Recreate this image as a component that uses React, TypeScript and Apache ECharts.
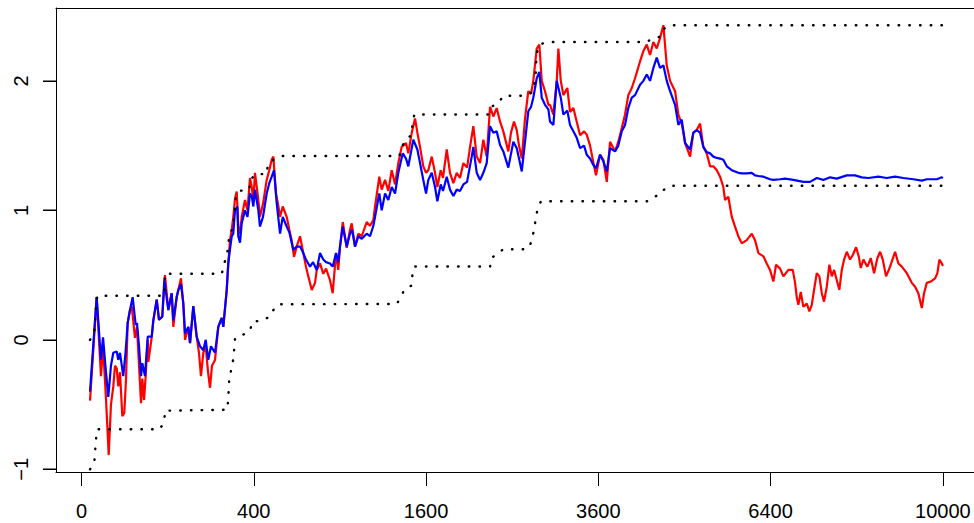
import React, { useEffect, useRef } from 'react';
import * as echarts from 'echarts';

// x axis is a square-root time scale: positions are sqrt(t), labels are t
const xTickSqrtT = [0, 20, 40, 60, 80, 100];
const xTickLabels = ['0', '400', '1600', '3600', '6400', '10000'];
const yTickValues = [-1, 0, 1, 2];
const yTickLabels = ['\u22121', '0', '1', '2'];

// [sqrt(t), value]
const redSeries: [number, number][] = [
  [0.99, -0.47], [1.76, 0.33], [2.26, -0.28], [2.5, -0.05], [2.84, -0.45], [3.16, -0.89], [3.42, -0.5], [3.69, -0.36],
  [3.89, -0.2], [4.09, -0.22], [4.27, -0.36], [4.47, -0.25], [4.74, -0.59], [4.97, -0.565], [5.17, -0.3], [5.36, 0.13],
  [5.63, 0.23], [5.83, 0.26], [6.21, 0.015], [6.44, 0.1], [6.68, -0.2], [6.91, -0.49], [7.06, -0.3], [7.26, -0.465],
  [7.43, -0.3], [7.69, 0.0], [7.76, -0.17], [8.15, 0.02], [8.34, 0.15], [8.73, 0.31], [9.0, 0.155], [9.38, 0.18],
  [9.69, 0.5], [10.08, 0.23], [10.47, 0.36], [10.66, 0.1], [11.05, 0.33], [11.24, 0.385], [11.55, 0.475], [11.82, 0.28],
  [12.02, 0.0], [12.4, 0.1], [12.6, -0.025], [12.98, 0.26], [13.37, 0.025], [13.64, -0.1], [13.87, -0.28], [14.14, -0.1],
  [14.42, -0.05], [14.69, -0.25], [14.92, -0.37], [15.15, -0.2], [15.5, -0.155], [15.88, 0.1], [16.28, 0.17], [16.46, 0.1],
  [16.86, 0.385], [17.04, 0.59], [17.24, 0.77], [17.44, 0.85], [17.62, 0.95], [17.82, 1.09], [18.02, 1.145], [18.2, 0.875],
  [18.4, 0.82], [18.6, 0.95], [18.98, 1.08], [19.27, 1.0], [19.56, 1.25], [19.76, 1.18], [19.95, 1.08], [20.14, 1.29],
  [20.53, 1.08], [20.72, 0.95], [21.07, 1.05], [21.5, 1.235], [21.8, 1.31], [22.08, 1.39], [22.27, 1.415], [22.58, 1.13],
  [22.81, 1.05], [23.05, 0.95], [23.36, 1.03], [23.82, 0.95], [24.13, 0.85], [24.4, 0.77], [24.67, 0.64], [24.98, 0.72],
  [25.37, 0.8], [25.68, 0.695], [26.06, 0.565], [26.33, 0.49], [26.73, 0.385], [27.11, 0.44], [27.31, 0.54], [27.69, 0.59],
  [28.07, 0.51], [28.39, 0.55], [28.85, 0.46], [29.16, 0.36], [29.55, 0.67], [29.81, 0.54], [30.01, 0.72], [30.33, 0.91],
  [30.79, 0.71], [31.17, 0.85], [31.37, 0.9], [31.75, 0.72], [32.14, 0.82], [32.53, 0.8], [33.11, 0.91], [33.49, 0.88],
  [33.88, 0.925], [34.08, 1.03], [34.57, 1.26], [34.85, 1.16], [35.24, 1.235], [35.62, 1.15], [36.01, 1.31], [36.4, 1.2],
  [36.78, 1.365], [37.17, 1.49], [37.67, 1.52], [37.94, 1.44], [38.34, 1.6], [38.72, 1.71], [38.99, 1.6], [39.3, 1.49],
  [39.68, 1.34], [40.0, 1.29], [40.26, 1.31], [40.66, 1.415], [41.04, 1.29], [41.31, 1.18], [41.7, 1.31], [41.97, 1.25],
  [42.4, 1.47], [42.78, 1.29], [43.17, 1.21], [43.56, 1.29], [43.94, 1.25], [44.33, 1.365], [44.76, 1.33], [45.11, 1.49],
  [45.49, 1.65], [45.88, 1.415], [46.27, 1.365], [46.65, 1.545], [47.04, 1.415], [47.43, 1.8], [47.81, 1.725], [48.2, 1.79],
  [48.59, 1.685], [48.97, 1.61], [49.55, 1.455], [49.86, 1.6], [50.21, 1.685], [50.53, 1.62], [50.79, 1.5], [51.11, 1.4],
  [51.49, 1.71], [51.87, 1.92], [52.19, 1.9], [52.45, 2.0], [52.85, 2.25], [53.15, 2.28], [53.43, 2.0], [53.81, 1.92],
  [54.2, 1.815], [54.39, 1.815], [54.78, 1.74], [55.17, 2.0], [55.36, 2.25], [55.64, 2.0], [55.94, 1.89], [56.4, 1.945],
  [56.71, 1.76], [57.1, 1.79], [57.49, 1.685], [57.88, 1.58], [58.34, 1.61], [58.65, 1.585], [59.04, 1.5], [59.42, 1.37],
  [59.73, 1.27], [60.2, 1.43], [60.58, 1.39], [60.98, 1.22], [61.36, 1.53], [61.94, 1.455], [62.32, 1.53], [62.72, 1.635],
  [63.1, 1.74], [63.48, 1.89], [63.88, 1.945], [64.26, 2.02], [64.84, 2.15], [65.23, 2.23], [65.62, 2.28], [66.0, 2.2],
  [66.39, 2.3], [66.78, 2.25], [67.16, 2.33], [67.55, 2.43], [67.94, 2.12], [68.33, 2.0], [68.91, 1.92], [69.29, 1.74],
  [69.68, 1.67], [70.07, 1.52], [70.65, 1.415], [71.03, 1.6], [71.42, 1.62], [71.81, 1.67], [72.19, 1.49], [72.58, 1.44],
  [72.97, 1.34], [73.35, 1.34], [73.75, 1.31], [74.13, 1.26], [74.51, 1.18], [74.71, 1.08], [75.09, 1.105], [75.49, 0.95],
  [75.87, 0.875], [76.25, 0.8], [76.65, 0.745], [77.23, 0.77], [77.81, 0.82], [78.19, 0.77], [78.58, 0.67], [79.16, 0.645],
  [79.55, 0.59], [79.93, 0.54], [80.32, 0.45], [80.63, 0.58], [81.1, 0.55], [81.48, 0.49], [82.06, 0.54], [82.57, 0.54],
  [82.84, 0.44], [83.03, 0.33], [83.22, 0.27], [83.5, 0.37], [83.8, 0.255], [84.2, 0.28], [84.5, 0.22], [84.78, 0.27],
  [85.04, 0.385], [85.36, 0.515], [85.66, 0.49], [85.94, 0.36], [86.2, 0.295], [86.52, 0.41], [86.82, 0.58], [87.1, 0.49],
  [87.37, 0.54], [87.68, 0.46], [87.98, 0.385], [88.26, 0.54], [88.53, 0.62], [88.84, 0.68], [89.22, 0.62], [89.54, 0.655],
  [89.92, 0.715], [90.23, 0.645], [90.46, 0.555], [90.77, 0.62], [91.23, 0.565], [91.63, 0.63], [92.01, 0.515], [92.39, 0.63],
  [92.71, 0.68], [93.02, 0.62], [93.4, 0.49], [93.87, 0.565], [94.45, 0.68], [94.83, 0.59], [95.23, 0.565], [95.81, 0.515],
  [96.39, 0.44], [96.77, 0.41], [97.15, 0.36], [97.55, 0.245], [97.81, 0.36], [98.13, 0.44], [98.59, 0.45], [99.09, 0.475],
  [99.36, 0.515], [99.59, 0.62], [99.87, 0.59], [100, 0.57],
];

const blueSeries: [number, number][] = [
  [0.99, -0.4], [1.76, 0.33], [2.26, -0.155], [2.5, 0.02], [2.84, -0.25], [3.11, -0.44], [3.42, -0.2], [3.69, -0.1],
  [4.09, -0.09], [4.27, -0.155], [4.47, -0.1], [4.85, -0.28], [5.11, -0.1], [5.36, 0.13], [5.63, 0.23], [5.94, 0.33],
  [6.29, 0.115], [6.44, 0.13], [6.68, -0.05], [6.91, -0.28], [7.06, -0.18], [7.37, -0.28], [7.69, 0.025], [8.15, 0.025],
  [8.34, 0.15], [8.73, 0.31], [9.0, 0.155], [9.38, 0.18], [9.61, 0.46], [10.08, 0.23], [10.47, 0.36], [10.66, 0.15],
  [11.05, 0.33], [11.24, 0.385], [11.55, 0.43], [11.82, 0.28], [12.02, 0.05], [12.4, 0.1], [12.6, -0.025], [12.98, 0.26],
  [13.37, 0.025], [13.76, -0.05], [14.14, -0.08], [14.42, 0.0], [14.72, -0.155], [15.03, -0.05], [15.5, -0.1], [15.88, 0.1],
  [16.28, 0.17], [16.46, 0.1], [16.86, 0.385], [17.04, 0.59], [17.24, 0.7], [17.44, 0.8], [17.62, 0.82], [17.82, 1.0],
  [18.09, 1.03], [18.2, 0.8], [18.4, 0.75], [18.6, 0.9], [18.98, 1.0], [19.27, 0.95], [19.56, 1.13], [19.76, 1.11],
  [19.95, 1.03], [20.14, 1.16], [20.53, 1.0], [20.72, 0.875], [21.07, 0.95], [21.5, 1.13], [21.8, 1.21], [22.08, 1.26],
  [22.35, 1.31], [22.66, 1.055], [23.05, 0.82], [23.36, 0.95], [23.82, 0.875], [24.13, 0.83], [24.4, 0.75], [24.59, 0.695],
  [24.98, 0.72], [25.37, 0.72], [25.68, 0.68], [26.06, 0.62], [26.53, 0.565], [26.88, 0.6], [27.31, 0.54], [27.69, 0.67],
  [28.07, 0.62], [28.39, 0.6], [28.85, 0.59], [29.16, 0.565], [29.55, 0.67], [29.81, 0.6], [30.01, 0.72], [30.33, 0.875],
  [30.79, 0.72], [31.17, 0.82], [31.41, 0.85], [31.75, 0.72], [32.14, 0.8], [32.53, 0.78], [33.11, 0.82], [33.49, 0.8],
  [33.88, 0.88], [34.08, 0.95], [34.57, 1.13], [34.85, 1.0], [35.24, 1.13], [35.62, 1.08], [36.01, 1.18], [36.4, 1.13],
  [36.78, 1.29], [37.29, 1.44], [37.67, 1.4], [37.94, 1.34], [38.52, 1.545], [38.99, 1.47], [39.3, 1.365], [39.68, 1.235],
  [40.0, 1.13], [40.26, 1.235], [40.66, 1.29], [41.04, 1.18], [41.31, 1.07], [41.7, 1.2], [41.97, 1.15], [42.4, 1.26],
  [42.78, 1.16], [43.17, 1.11], [43.56, 1.16], [43.94, 1.15], [44.33, 1.2], [44.76, 1.22], [45.3, 1.415], [45.49, 1.49],
  [45.88, 1.29], [46.27, 1.235], [46.65, 1.29], [47.04, 1.365], [47.43, 1.65], [47.81, 1.6], [48.2, 1.61], [48.59, 1.505],
  [48.97, 1.455], [49.55, 1.33], [50.13, 1.53], [50.53, 1.48], [50.79, 1.4], [51.11, 1.3], [51.49, 1.53], [51.87, 1.765],
  [52.19, 1.8], [52.45, 1.87], [52.85, 2.02], [53.15, 2.07], [53.43, 1.87], [53.81, 1.815], [54.2, 1.78], [54.39, 1.685],
  [54.78, 1.66], [55.17, 2.0], [55.64, 1.87], [55.94, 1.74], [56.4, 1.77], [56.71, 1.66], [57.1, 1.61], [57.49, 1.56],
  [57.88, 1.48], [58.34, 1.5], [58.65, 1.43], [59.04, 1.4], [59.42, 1.35], [59.73, 1.325], [60.2, 1.43], [60.58, 1.38],
  [60.98, 1.3], [61.36, 1.48], [61.94, 1.455], [62.32, 1.5], [62.72, 1.61], [63.1, 1.66], [63.48, 1.79], [63.88, 1.87],
  [64.26, 1.89], [64.84, 1.97], [65.23, 2.0], [65.62, 2.05], [66.0, 2.0], [66.39, 2.1], [66.78, 2.18], [67.16, 2.1],
  [67.55, 2.12], [67.94, 2.0], [68.33, 1.92], [68.91, 1.815], [69.29, 1.66], [69.68, 1.7], [70.07, 1.52], [70.65, 1.47],
  [71.03, 1.6], [71.42, 1.62], [71.81, 1.6], [72.19, 1.49], [72.58, 1.45], [72.97, 1.44], [73.35, 1.415], [73.75, 1.405],
  [74.13, 1.4], [74.51, 1.39], [74.91, 1.34], [75.49, 1.31], [75.87, 1.3], [76.25, 1.29], [76.65, 1.285], [77.23, 1.285],
  [77.81, 1.29], [78.19, 1.27], [78.58, 1.265], [79.16, 1.26], [79.55, 1.25], [79.93, 1.24], [80.32, 1.235], [81.1, 1.24],
  [81.68, 1.245], [82.64, 1.235], [83.8, 1.22], [84.58, 1.22], [85.36, 1.25], [86.12, 1.235], [86.9, 1.255], [87.68, 1.245],
  [88.84, 1.27], [89.8, 1.27], [90.58, 1.255], [91.35, 1.25], [92.51, 1.26], [93.48, 1.25], [94.45, 1.26], [95.41, 1.25],
  [96.57, 1.24], [97.55, 1.23], [98.13, 1.24], [99.29, 1.24], [99.87, 1.255], [100, 1.25],
];

const upperBound: [number, number][] = [
  [0.99, 0.0], [1.49, 0.06], [1.57, 0.14], [1.65, 0.22], [1.76, 0.31], [1.86, 0.34], [9.58, 0.34], [9.61, 0.37],
  [9.66, 0.51], [16.28, 0.51], [17.04, 0.71], [17.12, 0.8], [17.51, 0.86], [17.71, 0.94], [17.82, 1.03], [17.9, 1.09],
  [18.29, 1.15], [19.48, 1.16], [19.56, 1.235], [20.26, 1.28], [21.5, 1.28], [21.62, 1.35], [22.35, 1.395], [23.24, 1.42],
  [36.9, 1.42], [37.17, 1.49], [37.67, 1.545], [38.34, 1.585], [38.41, 1.665], [38.64, 1.74], [47.23, 1.74], [47.62, 1.8],
  [48.47, 1.835], [48.97, 1.885], [51.49, 1.885], [52.27, 1.91], [52.57, 1.97], [52.73, 2.05], [52.77, 2.13], [52.85, 2.21],
  [53.15, 2.28], [54.04, 2.3], [65.62, 2.3], [66.2, 2.325], [67.16, 2.34], [67.55, 2.4], [68.33, 2.43], [100, 2.43],
];

const lowerBound: [number, number][] = [
  [0.99, -1.0], [1.49, -0.946], [1.57, -0.864], [1.68, -0.78], [1.76, -0.7], [1.86, -0.69], [9.11, -0.69], [9.61, -0.63],
  [9.69, -0.547], [16.93, -0.54], [17.04, -0.45], [17.1, -0.37], [17.16, -0.285], [17.44, -0.22], [17.62, -0.148], [17.74, -0.065],
  [17.82, 0.012], [18.72, 0.038], [19.56, 0.07], [19.83, 0.14], [20.92, 0.148], [21.89, 0.18], [22.27, 0.23], [22.85, 0.275],
  [36.59, 0.277], [37.09, 0.33], [37.48, 0.39], [38.34, 0.42], [38.41, 0.5], [38.64, 0.566], [47.43, 0.566], [47.62, 0.635],
  [48.47, 0.67], [48.94, 0.7], [51.72, 0.7], [52.19, 0.75], [52.54, 0.85], [52.77, 0.95], [53.0, 1.03], [53.35, 1.07],
  [65.65, 1.07], [66.23, 1.1], [67.16, 1.12], [67.63, 1.16], [68.33, 1.19], [100, 1.19],
];

const X_MIN = -2.96;
const X_MAX = 103.61;
const Y_MIN = -1.0207;
const Y_MAX = 2.5627;

const FONT = '"Liberation Sans", Arial, Helvetica, sans-serif';

const PLOT_LEFT = 56;
const PLOT_TOP = 8;
const PLOT_HEIGHT = 464;
const Y_TICK_LEN = 13;

function labelFor(values: number[], labels: string[], v: number): string {
  const i = values.findIndex((t) => Math.abs(t - v) < 1e-6);
  return i >= 0 ? labels[i] : '';
}

export default function App() {
  const ref = useRef<HTMLDivElement>(null);

  useEffect(() => {
    if (!ref.current) return;
    const chart = echarts.init(ref.current, null, { renderer: 'svg' });
    const dotted = {
      color: '#000',
      width: 2.4,
      type: [0.5, 10.2],
      cap: 'round',
    };
    const frameLine = () => ({ show: true, onZero: false, lineStyle: { color: '#000', width: 1 } });

    // helper grid covering exactly the tick-mark strip left of the frame (y = -1 .. 2)
    const pxPerUnit = PLOT_HEIGHT / (Y_MAX - Y_MIN);
    const yTop = yTickValues[yTickValues.length - 1];
    const yBottom = yTickValues[0];
    const tickTop = PLOT_TOP + (Y_MAX - yTop) * pxPerUnit;
    const tickHeight = (yTop - yBottom) * pxPerUnit;

    chart.setOption({
      animation: false,
      backgroundColor: '#ffffff',
      grid: [
        { left: PLOT_LEFT, top: PLOT_TOP, right: 0, height: PLOT_HEIGHT, show: false },
        { left: PLOT_LEFT - Y_TICK_LEN, top: tickTop, width: Y_TICK_LEN, height: tickHeight, show: false },
      ],
      xAxis: [
        {
          type: 'value',
          gridIndex: 0,
          position: 'bottom',
          min: X_MIN,
          max: X_MAX,
          axisLine: frameLine(),
          splitLine: { show: false },
          axisTick: {
            show: true,
            inside: false,
            length: 14,
            customValues: xTickSqrtT,
            lineStyle: { color: '#000', width: 1 },
          },
          axisLabel: {
            customValues: xTickSqrtT,
            formatter: (v: number) => labelFor(xTickSqrtT, xTickLabels, v),
            margin: 29,
            fontSize: 20,
            color: '#000',
            fontFamily: FONT,
            hideOverlap: false,
          },
        },
        {
          type: 'value',
          gridIndex: 0,
          position: 'top',
          min: X_MIN,
          max: X_MAX,
          axisLine: frameLine(),
          splitLine: { show: false },
          axisTick: { show: false },
          axisLabel: { show: false },
        },
        {
          type: 'value',
          gridIndex: 1,
          min: 0,
          max: 1,
          axisLine: { show: false },
          axisTick: { show: false },
          axisLabel: { show: false },
          splitLine: { show: false },
        },
      ],
      yAxis: [
        {
          type: 'value',
          gridIndex: 0,
          position: 'left',
          min: Y_MIN,
          max: Y_MAX,
          axisLine: frameLine(),
          splitLine: { show: false },
          axisTick: {
            show: true,
            inside: false,
            length: Y_TICK_LEN,
            customValues: yTickValues,
            lineStyle: { color: '#000', width: 1 },
          },
          axisLabel: {
            customValues: yTickValues,
            formatter: (v: number) => labelFor(yTickValues, yTickLabels, v),
            rotate: 90,
            margin: 25,
            fontSize: 20,
            color: '#000',
            fontFamily: FONT,
            hideOverlap: false,
          },
        },
        {
          // tick strip: split lines of this axis are the y tick marks
          type: 'value',
          gridIndex: 1,
          min: yBottom,
          max: yTop,
          interval: 1,
          axisLine: { show: false },
          axisTick: { show: false },
          axisLabel: { show: false },
          splitLine: { show: true, lineStyle: { color: '#000', width: 1, type: 'solid' } },
        },
      ],
      series: [
        {
          type: 'line',
          data: redSeries,
          symbol: 'none',
          showSymbol: false,
          silent: true,
          lineStyle: { color: '#ff0000', width: 2.2 },
          z: 2,
        },
        {
          type: 'line',
          data: blueSeries,
          symbol: 'none',
          showSymbol: false,
          silent: true,
          lineStyle: { color: '#0000ff', width: 2.2 },
          z: 3,
        },
        {
          type: 'line',
          data: upperBound,
          symbol: 'none',
          showSymbol: false,
          silent: true,
          lineStyle: dotted,
          z: 4,
        },
        {
          type: 'line',
          data: lowerBound,
          symbol: 'none',
          showSymbol: false,
          silent: true,
          lineStyle: dotted,
          z: 4,
        },
      ],
    });

    // y tick marks as filled rectangles, positioned through the y scale
    const tickRects = yTickValues.map((v) => {
      const p = chart.convertToPixel({ xAxisIndex: 0, yAxisIndex: 0 }, [X_MIN, v]) as number[];
      const y = Math.round(p[1]);
      const x = Math.round(p[0]);
      return {
        type: 'rect',
        z: 100,
        silent: true,
        shape: { x: x - Y_TICK_LEN, y: y - 0.5, width: Y_TICK_LEN, height: 1.2 },
        style: { fill: '#000' },
      };
    });
    chart.setOption({ graphic: tickRects });

    return () => chart.dispose();
  }, []);

  return (
    <div
      ref={ref}
      style={{ position: 'fixed', left: 0, top: 0, width: 974, height: 523, background: '#fff' }}
    />
  );
}
